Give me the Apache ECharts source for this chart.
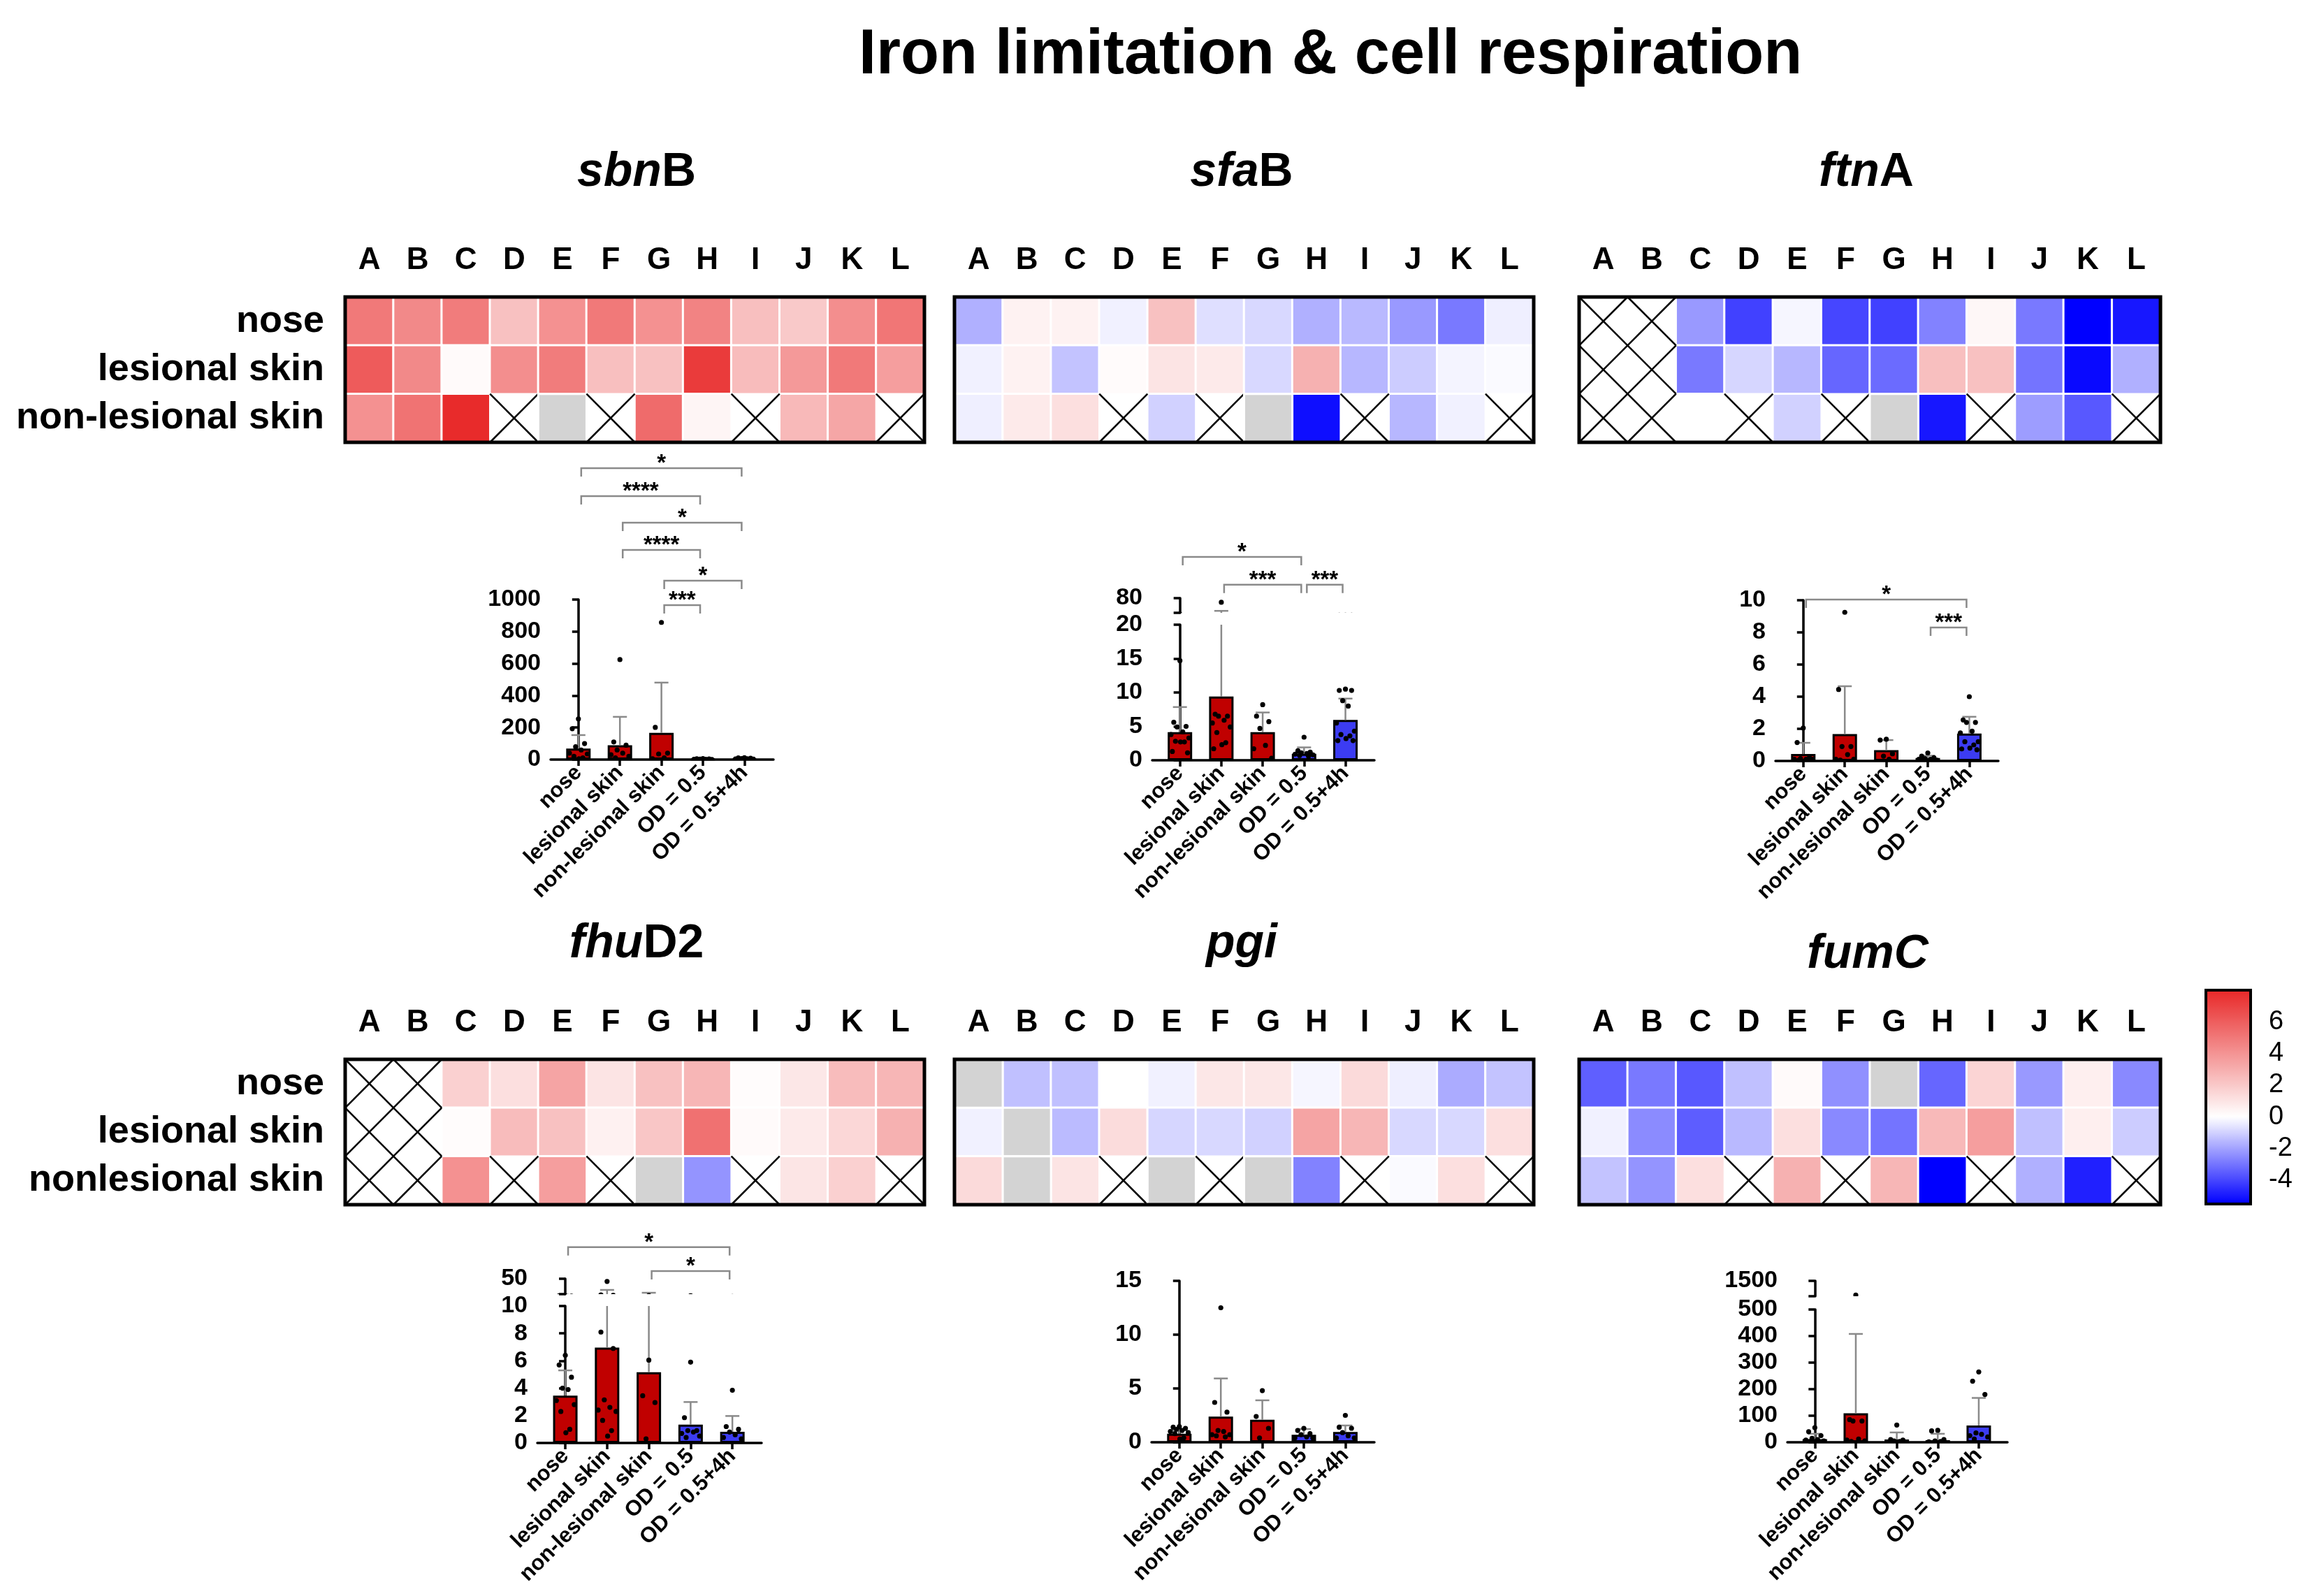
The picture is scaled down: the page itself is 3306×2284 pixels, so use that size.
<!DOCTYPE html>
<html><head><meta charset="utf-8">
<script src="https://cdn.jsdelivr.net/npm/echarts@6/dist/echarts.min.js"></script>
<style>html,body{margin:0;padding:0;background:#fff}#c{width:3306px;height:2284px}</style>
</head><body><div id="c"></div>
<script>
// ---------------- DATA ----------------
const COLS = ['A','B','C','D','E','F','G','H','I','J','K','L'];
const ROWS_TOP = ['nose','lesional skin','non-lesional skin'];
const ROWS_BOTTOM = ['nose','lesional skin','nonlesional skin'];
const ND = 'nd'; // measured but not quantified (grey); null = no sample (crossed)

const sbnB_heat = [
  [5.0, 4.4, 4.9, 2.3, 4.1, 5.0, 4.1, 4.6, 2.4, 2.0, 4.2, 5.1],
  [6.1, 4.4, 0.2, 4.2, 4.9, 2.4, 2.3, 7.3, 2.5, 3.8, 5.0, 3.6],
  [4.1, 5.2, 7.9, null, ND, null, 5.5, 0.4, null, 2.6, 3.3, null]
];
const sfaB_heat = [
  [-1.7, 0.5, 0.5, -0.3, 2.3, -0.7, -0.85, -1.7, -1.5, -2.2, -2.9, -0.35],
  [-0.3, 0.5, -1.3, 0.15, 1.0, 0.8, -0.85, 2.9, -1.55, -1.1, -0.25, -0.1],
  [-0.35, 0.8, 1.2, null, -1.0, null, ND, -5.2, null, -1.55, -0.3, null]
];
const ftnA_heat = [
  [null, null, -2.2, -4.1, -0.2, -4.0, -4.1, -2.7, 0.3, -2.9, -5.5, -5.0],
  [null, null, -2.9, -0.9, -1.55, -3.3, -3.2, 2.4, 2.3, -3.0, -5.3, -1.7],
  [null, null, 0.0, null, -1.0, null, ND, -5.0, null, -2.1, -3.6, null]
];
const fhuD2_heat = [
  [null, null, 1.75, 1.2, 3.4, 1.0, 2.3, 2.7, 0.1, 0.9, 2.5, 2.7],
  [null, null, 0.1, 2.5, 2.3, 0.55, 2.1, 5.3, 0.2, 0.8, 1.5, 2.9],
  [null, null, 4.1, null, 3.6, null, ND, -2.3, null, 0.95, 1.75, null]
];
const pgi_heat = [
  [ND, -1.35, -1.35, 0.0, -0.3, 0.9, 0.9, -0.2, 1.4, -0.35, -1.8, -1.3],
  [-0.3, ND, -1.45, 1.3, -0.9, -0.85, -1.0, 3.4, 2.7, -0.85, -0.85, 1.2],
  [1.4, ND, 1.0, null, ND, null, ND, -2.7, null, -0.1, 1.2, null]
];
const fumC_heat = [
  [-3.45, -2.9, -3.6, -1.35, 0.2, -2.4, ND, -3.3, 1.6, -2.2, 0.6, -2.55],
  [-0.3, -2.5, -3.5, -1.5, 1.2, -2.55, -3.0, 2.6, 3.6, -1.35, 0.6, -1.1],
  [-1.3, -2.3, 1.2, null, 2.9, null, 2.7, -5.5, null, -1.7, -4.8, null]
];
const COLORBAR_TICKS = [-4, -2, 0, 2, 4, 6];

const GROUPS = ['nose','lesional skin','non-lesional skin','OD = 0.5','OD = 0.5+4h'];

const sbnB_mean = [69, 90, 167, 2, 5];
const sbnB_sd = [84, 177, 314, 3, 3];
const sbnB_points = [
  [254, 193, 100, 80, 60, 40, 35, 20, 10, 5],
  [625, 110, 90, 60, 40, 30, 20, 10],
  [857, 201, 40, 35, 10, 5],
  [6, 5, 4, 3, 2, 2, 1, 1],
  [12, 10, 8, 6, 5, 4, 3, 2]
];
const sbnB_sig = [[0, 4, 1821], [0, 3, 1646], [1, 4, 1480], [1, 3, 1310], [2, 4, 1118], [2, 3, 965]];
const sbnB_sigLabels = ['*', '****', '*', '****', '*', '***'];

const sfaB_mean = [4.15, 9.4, 4.15, 0.96, 5.95];
const sfaB_sd = [3.7, 18.6, 2.9, 0.94, 3.15];
const sfaB_points = [
  [14.7, 5.6, 5.0, 4.9, 4.2, 3.8, 3.3, 2.8, 2.7, 2.7, 1.3, 1.1],
  [63, 6.8, 6.5, 6.5, 5.9, 5.5, 4.9, 4.1, 2.6, 2.3, 1.7],
  [8.2, 6.5, 5.7, 4.7, 2.2, 1.7, 0.3],
  [3.4, 1.4, 1.2, 1.1, 1.0, 0.9, 0.8, 0.7, 0.6],
  [10.5, 10.3, 10.3, 8.8, 8.0, 5.5, 4.3, 3.8, 3.6, 3.2, 2.9, 2.9]
];
const sfaB_sig = [[0, 3, 30.0], [1, 3, 25.9], [3, 4, 25.9]];
const sfaB_sigLabels = ['*', '***', '***'];

const ftnA_mean = [0.43, 1.67, 0.67, 0.19, 1.71];
const ftnA_sd = [0.70, 2.98, 0.63, 0.14, 1.04];
const ftnA_points = [
  [2.05, 1.15, 0.2, 0.15, 0.1, 0.1, 0.1, 0.05],
  [9.25, 4.45, 0.9, 0.9, 0.4, 0.1, 0.1, 0.05],
  [1.35, 1.3, 0.45, 0.3, 0.1],
  [0.5, 0.3, 0.2, 0.15, 0.1, 0.1, 0.05],
  [4.0, 2.55, 2.4, 2.4, 1.85, 1.75, 1.2, 1.2, 1.0, 0.8, 0.75, 0.7]
];
const ftnA_sig = [[0, 4, 10.04], [3, 4, 8.3]];
const ftnA_sigLabels = ['*', '***'];

const fhuD2_mean = [3.46, 6.97, 5.17, 1.34, 0.81];
const fhuD2_sd = [1.84, 14.0, 8.4, 1.65, 1.16];
const fhuD2_points = [
  [6.4, 5.7, 4.8, 4.0, 3.9, 3.1, 2.8, 2.3, 1.0, 0.75],
  [43, 8.1, 6.9, 3.15, 2.6, 2.4, 2.3, 1.65, 0.9, 0.5],
  [6.05, 3.45, 2.95, 0.3],
  [5.9, 1.85, 0.9, 0.9, 0.8, 0.7, 0.5, 0.4],
  [3.85, 1.2, 1.0, 0.8, 0.6, 0.4, 0.3]
];
const fhuD2_sig = [[0, 4, 14.3], [2, 4, 12.55]];
const fhuD2_sigLabels = ['*', '*'];

const pgi_mean = [0.8, 2.38, 2.1, 0.69, 0.95];
const pgi_sd = [0.32, 3.55, 1.8, 0.54, 0.61];
const pgi_points = [
  [1.45, 1.4, 1.3, 1.2, 1.1, 1.0, 0.9, 0.8, 0.4, 0.3],
  [12.5, 3.7, 2.8, 1.1, 1.0, 0.7, 0.7, 0.6, 0.5],
  [4.8, 2.4, 1.3, 0.4],
  [1.3, 1.1, 0.8, 0.7, 0.5, 0.4, 0.4],
  [2.5, 1.4, 1.3, 0.9, 0.6, 0.4, 0.4]
];

const fumC_mean = [12, 109, 10.5, 8, 63];
const fumC_sd = [20, 299, 26.5, 24, 104];
const fumC_points = [
  [55, 40, 25, 15, 10, 8, 5, 3, 2],
  [580, 85, 80, 80, 12, 8, 5, 3],
  [65, 10, 8, 5, 3],
  [45, 43, 10, 5, 3, 2],
  [265, 230, 180, 35, 30, 25, 20, 12]
];

// ---------------- STYLE / LAYOUT ----------------
const FONT = '"Liberation Sans", Arial, Helvetica, sans-serif';
const RED = '#c00000', BLUE = '#3c3cf2', GREYLINE = '#8a8a8a';
const HEAT_MIN = -5.5, HEAT_MAX = 8;
function rgb(r, g, b) { return 'rgb(' + Math.round(r) + ',' + Math.round(g) + ',' + Math.round(b) + ')'; }
function heatColor(v) {
  if (v <= 0) { const t = Math.min(1, -v / 5.5); return rgb(255 * (1 - t), 255 * (1 - t), 255); }
  const t = Math.min(1, v / 8); return rgb(255 - 23 * t, 255 - 215 * t, 255 - 215 * t);
}
const HEAT_STOPS = [];
for (let k = 0; k <= 27; k++) HEAT_STOPS.push(heatColor(HEAT_MIN + k * 0.5));
const SPREAD = [0, -0.55, 0.55, -0.25, 0.25, -0.8, 0.8, -0.4, 0.4, 0.05, -0.68, 0.68];
const plainNum = v => String(v);

const grids = [], xAxes = [], yAxes = [], series = [], heatSeriesIdx = [];

function addHeat(arr, rows, showRows, left, top, width, height) {
  const gi = grids.length, xi = xAxes.length, yi = yAxes.length;
  grids.push({ left: left, top: top, width: width, height: height, show: true, z: 10,
    backgroundColor: 'transparent', borderColor: '#000', borderWidth: 5 });
  xAxes.push({ type: 'category', gridIndex: gi, data: COLS, position: 'top',
    axisLine: { show: false }, axisTick: { show: false }, splitLine: { show: false },
    axisLabel: { interval: 0, hideOverlap: false, fontSize: 44, fontWeight: 'bold', color: '#000', fontFamily: FONT, margin: 30 } });
  yAxes.push({ type: 'category', gridIndex: gi, data: rows, inverse: true,
    axisLine: { show: false }, axisTick: { show: false }, splitLine: { show: false },
    axisLabel: { show: showRows, interval: 0, hideOverlap: false, fontSize: 54, fontWeight: 'bold', color: '#000', fontFamily: FONT, margin: 30 } });
  const vals = [], na = [];
  arr.forEach((row, r) => row.forEach((v, c) => {
    if (typeof v === 'number') vals.push([c, r, v]);
    else if (v === ND) na.push([c, r, 1]);
    else na.push([c, r, 0]);
  }));
  heatSeriesIdx.push(series.length);
  series.push({ type: 'heatmap', xAxisIndex: xi, yAxisIndex: yi, data: vals,
    itemStyle: { borderColor: '#fff', borderWidth: 3 }, emphasis: { disabled: true }, z: 2 });
  series.push({ type: 'custom', xAxisIndex: xi, yAxisIndex: yi, data: na, z: 3,
    renderItem: function (params, api) {
      const c = api.coord([api.value(0), api.value(1)]);
      const s = api.size([1, 1]);
      const x0 = c[0] - s[0] / 2, y0 = c[1] - s[1] / 2, x1 = c[0] + s[0] / 2, y1 = c[1] + s[1] / 2;
      if (api.value(2) === 1) {
        return { type: 'rect', shape: { x: x0, y: y0, width: s[0], height: s[1] },
          style: { fill: '#d3d3d3', stroke: '#fff', lineWidth: 3 } };
      }
      return { type: 'group', children: [
        { type: 'line', shape: { x1: x0, y1: y0, x2: x1, y2: y1 }, style: { stroke: '#000', lineWidth: 2.5 } },
        { type: 'line', shape: { x1: x0, y1: y1, x2: x1, y2: y0 }, style: { stroke: '#000', lineWidth: 2.5 } }
      ] };
    } });
}

const axisLineStyle = { color: '#000', width: 3.5 };
function errRender(params, api) {
  const p0 = api.coord([api.value(0), api.value(1)]);
  const p1 = api.coord([api.value(0), api.value(2)]);
  return { type: 'group', children: [
    { type: 'line', shape: { x1: p0[0], y1: p0[1], x2: p1[0], y2: p1[1] }, style: { stroke: GREYLINE, lineWidth: 2.5 } },
    { type: 'line', shape: { x1: p1[0] - 10, y1: p1[1], x2: p1[0] + 10, y2: p1[1] }, style: { stroke: GREYLINE, lineWidth: 2.5 } }
  ] };
}
function ptRender(params, api) {
  const p = api.coord([api.value(0), api.value(1)]);
  const off = SPREAD[api.value(2) % SPREAD.length] * 16;
  return { type: 'circle', shape: { cx: p[0] + off, cy: p[1], r: 3.6 }, style: { fill: '#000' } };
}

function addBar(spec, mean, sd, points, sig, sigLabels) {
  const errData = mean.map((m, i) => [i, m, m + sd[i]]);
  const ptData = [];
  points.forEach((g, i) => g.forEach((v, k) => ptData.push([i, v, k])));
  const segs = [spec.low].concat(spec.up ? [spec.up] : []);
  segs.forEach((seg, si) => {
    const gi = grids.length, xi = xAxes.length, yi = yAxes.length;
    grids.push({ left: spec.x0, width: spec.x1 - spec.x0, top: seg.top, height: seg.bottom - seg.top, show: false });
    if (si === 0) {
      xAxes.push({ type: 'value', gridIndex: gi, min: -0.67, max: 4.7,
        axisLine: { show: true, onZero: false, lineStyle: axisLineStyle },
        axisTick: { show: true, customValues: [0, 1, 2, 3, 4], length: 9, lineStyle: axisLineStyle },
        axisLabel: { customValues: [0, 1, 2, 3, 4], formatter: v => GROUPS[v], rotate: 45, hideOverlap: false,
          fontSize: 31, fontWeight: 'bold', color: '#000', fontFamily: FONT, margin: 14 },
        splitLine: { show: false } });
      yAxes.push({ type: 'value', gridIndex: gi, min: seg.min, max: seg.max, interval: seg.interval,
        axisLine: { show: true, lineStyle: axisLineStyle },
        axisTick: { show: true, length: 9, lineStyle: axisLineStyle },
        axisLabel: { formatter: plainNum, fontSize: 34, fontWeight: 'bold', color: '#000', fontFamily: FONT, margin: 14 },
        splitLine: { show: false } });
      series.push({ type: 'bar', xAxisIndex: xi, yAxisIndex: yi, barWidth: 35, z: 2,
        data: mean.map((m, i) => ({ value: [i, m], itemStyle: { color: i < 3 ? RED : BLUE } })),
        itemStyle: { borderColor: '#000', borderWidth: 3 }, emphasis: { disabled: true } });
    } else {
      xAxes.push({ type: 'value', gridIndex: gi, min: -0.67, max: 4.7, show: false });
      yAxes.push({ type: 'value', gridIndex: gi, min: seg.min, max: seg.max,
        axisLine: { show: true, lineStyle: axisLineStyle },
        axisTick: { show: true, length: 9, customValues: [seg.min, seg.max], lineStyle: axisLineStyle },
        axisLabel: { customValues: [seg.max], formatter: plainNum, fontSize: 34, fontWeight: 'bold', color: '#000', fontFamily: FONT, margin: 14 },
        splitLine: { show: false } });
    }
    series.push({ type: 'custom', xAxisIndex: xi, yAxisIndex: yi, data: errData, clip: true, z: 3, renderItem: errRender });
    series.push({ type: 'custom', xAxisIndex: xi, yAxisIndex: yi, data: ptData, clip: true, z: 4, renderItem: ptRender });
    if (si === 0 && sig) {
      series.push({ type: 'custom', xAxisIndex: xi, yAxisIndex: yi, data: sig, clip: false, z: 4,
        renderItem: function (params, api) {
          const y = api.coord([0, api.value(2)])[1];
          const xa = api.coord([api.value(0), 0])[0] + 4;
          const xb = api.coord([api.value(1), 0])[0] - 4;
          return { type: 'group', children: [
            { type: 'polyline', shape: { points: [[xa, y + 12], [xa, y], [xb, y], [xb, y + 12]] },
              style: { stroke: GREYLINE, lineWidth: 2.5, fill: 'none' } },
            { type: 'text', x: (xa + xb) / 2, y: y - 6,
              style: { text: sigLabels[params.dataIndex], fill: '#000', font: 'bold 33px ' + FONT,
                textAlign: 'center', textVerticalAlign: 'middle' } }
          ] };
        } });
    }
  });
}

// heatmaps
addHeat(sbnB_heat, ROWS_TOP, true, 494, 425, 829, 208);
addHeat(sfaB_heat, ROWS_TOP, false, 1366, 425, 829, 208);
addHeat(ftnA_heat, ROWS_TOP, false, 2260, 425, 832, 208);
addHeat(fhuD2_heat, ROWS_BOTTOM, true, 494, 1516, 829, 208);
addHeat(pgi_heat, ROWS_BOTTOM, false, 1366, 1516, 829, 208);
addHeat(fumC_heat, ROWS_BOTTOM, false, 2260, 1516, 832, 208);

// colour bar axes
const CB = { left: 3157, top: 1417, width: 64, height: 306 };
(function () {
  const gi = grids.length;
  grids.push({ left: CB.left, top: CB.top, width: CB.width, height: CB.height, show: true, z: 10,
    backgroundColor: 'transparent', borderColor: '#000', borderWidth: 4 });
  xAxes.push({ type: 'value', gridIndex: gi, min: 0, max: 1, show: false });
  const common = { type: 'value', gridIndex: gi, min: HEAT_MIN, max: HEAT_MAX, splitLine: { show: false },
    axisLine: { show: false } };
  yAxes.push(Object.assign({}, common, { position: 'left',
    axisTick: { show: true, inside: true, length: 10, customValues: COLORBAR_TICKS, lineStyle: { color: '#000', width: 4 } },
    axisLabel: { show: false } }));
  yAxes.push(Object.assign({}, common, { position: 'right',
    axisTick: { show: true, inside: true, length: 10, customValues: COLORBAR_TICKS, lineStyle: { color: '#000', width: 4 } },
    axisLabel: { show: true, customValues: COLORBAR_TICKS, fontSize: 38, color: '#000', fontFamily: FONT, margin: 26, align: 'left' } }));
})();

// bar charts
addBar({ x0: 788, x1: 1107, low: { top: 858, bottom: 1087, min: 0, max: 1000, interval: 200 } },
  sbnB_mean, sbnB_sd, sbnB_points, sbnB_sig, sbnB_sigLabels);
addBar({ x0: 1649, x1: 1967, low: { top: 894, bottom: 1088, min: 0, max: 20, interval: 5 },
  up: { top: 856, bottom: 877, min: 20, max: 80 } },
  sfaB_mean, sfaB_sd, sfaB_points, sfaB_sig, sfaB_sigLabels);
addBar({ x0: 2541, x1: 2860, low: { top: 859, bottom: 1089, min: 0, max: 10, interval: 2 } },
  ftnA_mean, ftnA_sd, ftnA_points, ftnA_sig, ftnA_sigLabels);
addBar({ x0: 769, x1: 1090, low: { top: 1869, bottom: 2065, min: 0, max: 10, interval: 2 },
  up: { top: 1830, bottom: 1852, min: 10, max: 50 } },
  fhuD2_mean, fhuD2_sd, fhuD2_points, fhuD2_sig, fhuD2_sigLabels);
addBar({ x0: 1648, x1: 1967, low: { top: 1833, bottom: 2064, min: 0, max: 15, interval: 5 } },
  pgi_mean, pgi_sd, pgi_points, null, null);
addBar({ x0: 2558, x1: 2873, low: { top: 1874, bottom: 2064, min: 0, max: 500, interval: 100 },
  up: { top: 1833, bottom: 1855, min: 500, max: 1500 } },
  fumC_mean, fumC_sd, fumC_points, null, null);

function geneTitle(x, y, text) {
  return { type: 'text', x: x, y: y, z: 20,
    style: { text: text, textAlign: 'center', textVerticalAlign: 'middle', fill: '#000',
      rich: {
        i: { fontStyle: 'italic', fontWeight: 'bold', fontSize: 68, fontFamily: FONT, fill: '#000' },
        b: { fontWeight: 'bold', fontSize: 68, fontFamily: FONT, fill: '#000' }
      } } };
}

const option = {
  backgroundColor: '#fff',
  animation: false,
  grid: grids, xAxis: xAxes, yAxis: yAxes, series: series,
  visualMap: [{ type: 'continuous', min: HEAT_MIN, max: HEAT_MAX, seriesIndex: heatSeriesIdx, dimension: 2,
    orient: 'vertical', left: CB.left, top: CB.top, itemWidth: CB.width, itemHeight: CB.height,
    padding: 0, calculable: false, hoverLink: false, show: true,
    inRange: { color: HEAT_STOPS } }],
  graphic: [
    { type: 'text', x: 1904, y: 80, z: 20, style: { text: 'Iron limitation & cell respiration', textAlign: 'center',
      textVerticalAlign: 'middle', font: 'bold 90px ' + FONT, fill: '#000' } },
    geneTitle(911, 247, '{i|sbn}{b|B}'),
    geneTitle(1777, 247, '{i|sfa}{b|B}'),
    geneTitle(2671, 247, '{i|ftn}{b|A}'),
    geneTitle(911, 1351, '{i|fhu}{b|D2}'),
    geneTitle(1777, 1351, '{i|pgi}'),
    geneTitle(2673, 1366, '{i|fumC}')
  ]
};
const chart = echarts.init(document.getElementById('c'), null, { width: 3306, height: 2284 });
chart.setOption(option);
</script></body></html>
